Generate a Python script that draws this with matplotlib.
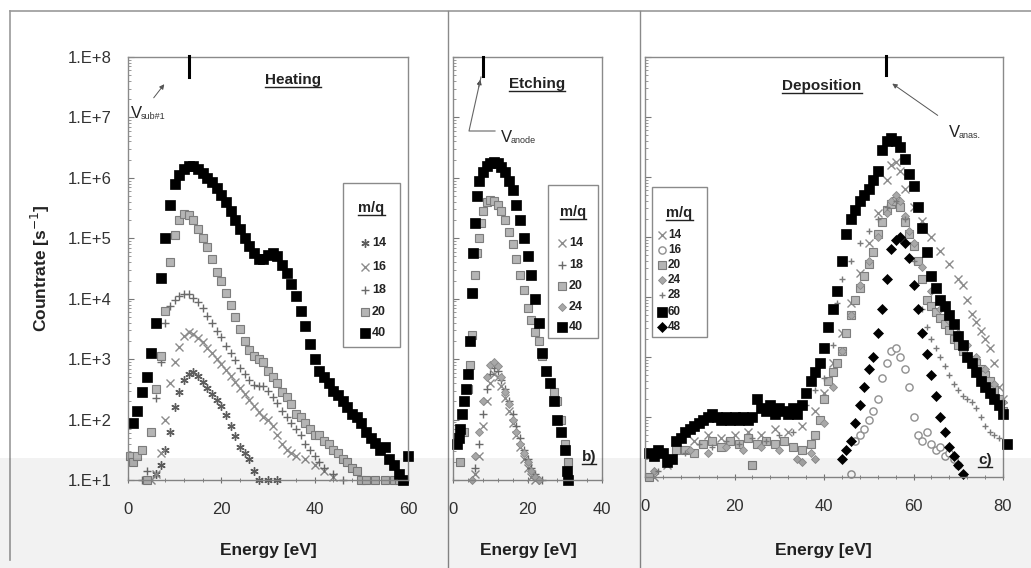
import numpy as np
import matplotlib
matplotlib.use("Agg")
import matplotlib.pyplot as plt
from matplotlib.lines import Line2D
from matplotlib.patches import Rectangle, FancyArrowPatch
from matplotlib.ticker import FixedLocator, FuncFormatter, LogLocator, MultipleLocator, NullFormatter

plt.rcParams['font.family'] = ['Liberation Sans', 'DejaVu Sans']

# ---------------- data (log10 of countrate in s^-1) ----------------
# (a) Heating
heat14_E = [6, 7, 8, 9, 10, 11, 12, 13, 14, 15, 16, 17, 18, 19, 20, 21, 22, 23, 24, 25, 26, 27, 28, 30, 32]
heat14_log = [1.1, 1.25, 1.5, 1.8, 2.2, 2.45, 2.65, 2.75, 2.78, 2.72, 2.62, 2.52, 2.42, 2.32, 2.22, 2.08, 1.9,
              1.72, 1.55, 1.45, 1.35, 1.15, 1.0, 1.0, 1.0]
heat16_E = [5, 6, 7, 8, 9, 10, 11, 12, 13, 14, 15, 16, 17, 18, 19, 20, 21, 22, 23, 24, 25, 26, 27, 28, 29, 30,
            31, 32, 33, 34, 35, 36, 38, 40, 42, 44]
heat16_log = [1.0, 1.1, 1.45, 2.0, 2.6, 2.95, 3.2, 3.38, 3.45, 3.42, 3.35, 3.28, 3.18, 3.1, 3.0, 2.92, 2.82, 2.72,
              2.62, 2.52, 2.42, 2.32, 2.22, 2.12, 2.05, 2.0, 1.9, 1.75, 1.6, 1.5, 1.45, 1.4, 1.35, 1.25, 1.15, 1.05]
heat18_E = [3, 4, 5, 6, 7, 8, 9, 10, 11, 12, 13, 14, 15, 16, 17, 18, 19, 20, 21, 22, 23, 24, 25, 26, 27, 28, 29,
            30, 31, 32, 33, 34, 35, 36, 37, 38, 39, 40, 41, 42, 44, 46]
heat18_log = [1.0, 1.15, 1.8, 2.35, 2.95, 3.6, 3.88, 3.98, 4.05, 4.08, 4.07, 4.02, 3.95, 3.85, 3.72, 3.6, 3.47,
              3.37, 3.22, 3.1, 2.98, 2.85, 2.75, 2.65, 2.58, 2.55, 2.55, 2.48, 2.38, 2.28, 2.15, 2.05, 1.95, 1.85,
              1.75, 1.6, 1.5, 1.4, 1.3, 1.2, 1.1, 1.0]
heat20_E = [0.5, 1, 2, 3, 4, 5, 6, 7, 8, 9, 10, 11, 12, 13, 14, 15, 16, 17, 18, 19, 20, 21, 22, 23, 24, 25, 26,
            27, 28, 29, 30, 31, 32, 33, 34, 35, 36, 37, 38, 39, 40, 41, 42, 43, 44, 45, 46, 47, 48, 49, 50, 51,
            53, 55, 57, 58]
heat20_log = [1.4, 1.3, 1.4, 1.5, 1.0, 1.8, 2.5, 3.05, 3.8, 4.6, 5.05, 5.3, 5.4, 5.38, 5.3, 5.15, 5.0, 4.85, 4.65,
              4.45, 4.3, 4.1, 3.9, 3.7, 3.5, 3.3, 3.15, 3.05, 3.0, 2.95, 2.8, 2.7, 2.6, 2.45, 2.38, 2.25, 2.1,
              2.05, 1.95, 1.85, 1.75, 1.75, 1.65, 1.6, 1.5, 1.45, 1.35, 1.3, 1.2, 1.15, 1.0, 1.0, 1.0, 1.0, 1.0, 1.0]
heat40_E = [1, 2, 3, 4, 5, 6, 7, 8, 9, 10, 11, 12, 13, 14, 15, 16, 17, 18, 19, 20, 21, 22, 23, 24, 25, 26, 27,
            28, 29, 30, 31, 32, 33, 34, 35, 36, 37, 38, 39, 40, 41, 42, 43, 44, 45, 46, 47, 48, 49, 50, 51, 52,
            53, 54, 55, 56, 57, 58, 59, 60]
heat40_log = [1.95, 2.15, 2.45, 2.7, 3.1, 3.6, 4.35, 5.0, 5.55, 5.9, 6.05, 6.15, 6.2, 6.19, 6.15, 6.08, 6.0, 5.93,
              5.83, 5.72, 5.6, 5.45, 5.3, 5.15, 5.0, 4.87, 4.75, 4.65, 4.66, 4.72, 4.76, 4.7, 4.55, 4.42, 4.25,
              4.05, 3.8, 3.55, 3.25, 3.0, 2.8, 2.7, 2.6, 2.48, 2.4, 2.3, 2.2, 2.1, 2.05, 1.95, 1.8, 1.7, 1.62,
              1.5, 1.55, 1.35, 1.25, 1.1, 1.0, 1.4]

# (b) Etching
etch14_E = [6, 7, 8, 9, 10, 11, 12, 13, 14, 15, 16, 17, 18, 19, 20, 21, 22]
etch14_log = [1.1, 1.4, 1.9, 2.3, 2.6, 2.75, 2.7, 2.55, 2.35, 2.15, 1.95, 1.75, 1.55, 1.35, 1.2, 1.05, 1.0]
etch18_E = [6, 7, 8, 9, 10, 11, 12, 13, 14, 15, 16, 17, 18, 19, 20, 21, 22, 23, 24]
etch18_log = [1.2, 1.6, 2.1, 2.5, 2.75, 2.85, 2.8, 2.65, 2.5, 2.3, 2.1, 1.9, 1.7, 1.5, 1.35, 1.2, 1.1, 1.0, 1.0]
etch20_E = [2, 3, 4, 4.5, 5, 5.5, 6, 6.5, 7, 7.5, 8, 9, 10, 11, 12, 13, 14, 15, 16, 17, 18, 19, 20, 21, 22, 23,
            24, 25, 26, 27, 28, 29, 30, 31]
etch20_log = [1.3, 1.8, 2.5, 2.9, 3.4, 4.1, 4.4, 4.75, 5.0, 5.25, 5.45, 5.6, 5.64, 5.62, 5.55, 5.45, 5.3, 5.1,
              4.9, 4.65, 4.4, 4.15, 3.85, 3.65, 3.45, 3.3, 3.05, 2.8, 2.6, 2.45, 2.3, 2.0, 1.6, 1.3]
etch24_E = [5, 6, 7, 8, 9, 10, 11, 12, 13, 14, 15, 16, 17, 18, 19, 20, 21, 22, 23]
etch24_log = [1.0, 1.4, 1.8, 2.3, 2.7, 2.9, 2.95, 2.88, 2.7, 2.45, 2.25, 2.0, 1.8, 1.6, 1.45, 1.3, 1.15, 1.05, 1.0]
etch40_E = [1, 1.5, 2, 2.5, 3, 3.5, 4, 4.5, 5, 5.5, 6, 6.5, 7, 8, 9, 10, 11, 12, 13, 14, 15, 16, 17, 18, 19, 20,
            21, 22, 23, 24, 25, 26, 27, 28, 29, 30, 30.5, 31]
etch40_log = [1.6, 1.7, 1.85, 2.1, 2.3, 2.5, 2.75, 3.3, 4.1, 4.75, 5.25, 5.7, 5.95, 6.1, 6.2, 6.25, 6.26, 6.24,
              6.18, 6.09, 5.95, 5.8, 5.55, 5.3, 5.0, 4.7, 4.4, 4.0, 3.6, 3.1, 2.8, 2.6, 2.3, 2.0, 1.8, 1.5, 1.15, 1.0]

# (c) Deposition
dep14_E = [2, 5, 8, 11, 14, 17, 20, 23, 26, 29, 32, 35, 38, 40, 42, 44, 46, 48, 50, 52, 54, 55, 56, 57, 58, 60,
           62, 64, 66, 68, 70, 71, 72, 73, 74, 75, 76, 77, 78, 79, 80]
dep14_log = [1.0, 1.2, 1.45, 1.6, 1.7, 1.65, 1.7, 1.75, 1.7, 1.8, 1.75, 1.85, 2.1, 2.4, 2.9, 3.4, 3.9, 4.4, 4.9,
             5.4, 5.95, 6.2, 6.25, 6.1, 5.8, 5.5, 5.27, 5.0, 4.77, 4.55, 4.3, 4.2, 3.95, 3.72, 3.58, 3.43, 3.3,
             3.15, 2.9, 2.5, 2.3]
dep16_E = [46, 47, 48, 49, 50, 51, 52, 53, 54, 55, 56, 57, 58, 59, 60, 61, 62, 63, 64, 65, 66, 67, 68, 69, 70]
dep16_log = [1.05, 1.6, 1.7, 1.8, 1.95, 2.1, 2.3, 2.65, 2.9, 3.1, 3.15, 3.0, 2.8, 2.5, 2.0, 1.7, 1.6, 1.75, 1.55,
             1.45, 1.5, 1.35, 1.4, 1.3, 1.2]
dep20_E = [1, 3, 5, 7, 9, 11, 13, 15, 17, 19, 21, 23, 24, 25, 27, 29, 31, 33, 35, 37, 38, 39, 40, 41, 42, 43, 44,
           45, 46, 47, 48, 49, 50, 51, 52, 53, 54, 55, 56, 57, 58, 59, 60, 61, 62, 63, 64, 65, 66, 67, 68, 69,
           70, 71, 72, 73, 74, 75, 76, 77, 78, 79, 80]
dep20_log = [1.0, 1.4, 1.3, 1.45, 1.45, 1.4, 1.55, 1.6, 1.5, 1.6, 1.55, 1.65, 1.2, 1.55, 1.6, 1.55, 1.6, 1.5, 1.45,
             1.55, 1.7, 1.95, 2.3, 2.6, 2.75, 2.9, 3.1, 3.4, 3.7, 3.95, 4.15, 4.35, 4.55, 4.75, 5.05, 5.25, 5.45,
             5.55, 5.6, 5.5, 5.25, 5.05, 4.85, 4.6, 4.3, 3.95, 3.85, 3.75, 3.65, 3.55, 3.45, 3.3, 3.2, 3.1, 3.0,
             2.95, 2.9, 2.8, 2.7, 2.6, 2.45, 2.3, 2.1]
dep24_E = [2, 6, 10, 14, 18, 22, 26, 30, 34, 35, 37, 38, 40, 42, 44, 46, 48, 50, 52, 54, 55, 56, 57, 58, 59, 60,
           62, 64, 66, 68, 70, 72, 74, 76, 78, 80]
dep24_log = [1.1, 1.3, 1.45, 1.4, 1.5, 1.45, 1.5, 1.45, 1.3, 1.25, 1.4, 1.3, 1.9, 2.5, 3.1, 3.7, 4.2, 4.6, 5.0,
             5.4, 5.6, 5.7, 5.6, 5.35, 5.1, 4.9, 4.5, 4.1, 3.8, 3.6, 3.4, 3.2, 3.0, 2.8, 2.55, 2.25]
dep28_E = [3, 6, 9, 12, 15, 18, 21, 24, 27, 30, 33, 36, 38, 40, 42, 43, 44, 46, 48, 50, 52, 54, 56, 58, 60, 62,
           63, 64, 65, 66, 67, 68, 69, 70, 71, 72, 73, 74, 75, 76, 77, 78, 79]
dep28_log = [1.1, 1.3, 1.4, 1.55, 1.5, 1.6, 1.55, 1.65, 1.6, 1.7, 1.75, 2.2, 2.45, 2.65, 3.2, 3.9, 4.3, 4.6, 4.9,
             5.1, 5.3, 5.5, 5.6, 5.3, 4.6, 3.8, 3.5, 3.3, 3.15, 3.0, 2.85, 2.7, 2.55, 2.45, 2.35, 2.3, 2.25, 2.15,
             2.0, 1.85, 1.75, 1.7, 1.65]
dep60_E = [1, 2, 3, 4, 5, 6, 7, 8, 9, 10, 11, 12, 13, 14, 15, 16, 17, 18, 19, 20, 21, 22, 23, 24, 25, 26, 27, 28,
           29, 30, 31, 32, 33, 34, 35, 36, 37, 38, 39, 40, 41, 42, 43, 44, 45, 46, 47, 48, 49, 50, 51, 52, 53,
           54, 55, 56, 57, 58, 59, 60, 61, 62, 63, 64, 65, 66, 67, 68, 69, 70, 71, 72, 73, 74, 75, 76, 77, 78,
           79, 80, 81]
dep60_log = [1.4, 1.35, 1.45, 1.4, 1.25, 1.3, 1.6, 1.65, 1.75, 1.8, 1.85, 1.9, 1.95, 2.0, 2.05, 2.0, 1.95, 2.0,
             1.95, 2.0, 1.95, 2.0, 1.95, 2.0, 2.3, 2.15, 2.1, 2.2, 2.05, 2.15, 2.1, 2.05, 2.15, 2.05, 2.2, 2.4,
             2.6, 2.75, 2.9, 3.15, 3.5, 3.8, 4.1, 4.6, 5.05, 5.3, 5.45, 5.6, 5.7, 5.8, 5.95, 6.1, 6.45, 6.6, 6.65,
             6.6, 6.5, 6.3, 6.05, 5.85, 5.5, 5.15, 4.75, 4.35, 4.15, 3.95, 3.85, 3.7, 3.55, 3.35, 3.2, 3.0, 2.9,
             2.75, 2.6, 2.5, 2.4, 2.3, 2.2, 2.05, 1.55]
dep48_E = [44, 45, 46, 47, 48, 49, 50, 51, 52, 53, 54, 55, 56, 57, 58, 59, 60, 61, 62, 63, 64, 65, 66, 67, 68,
           69, 70, 71]
dep48_log = [1.3, 1.45, 1.6, 1.9, 2.2, 2.5, 2.8, 3.0, 3.4, 3.8, 4.3, 4.8, 4.95, 5.0, 4.9, 4.65, 4.2, 3.8, 3.4,
             3.05, 2.7, 2.35, 2.0, 1.75, 1.5, 1.35, 1.2, 1.05]

ytick_exponents = [1, 2, 3, 4, 5, 6, 7, 8]

# ---------------- styles ----------------
STY = {
    'ast':  dict(marker=(6, 2, 0), ms=6, mec='#5e5e5e', mew=1.0, mfc='none', ls='none'),
    'x':    dict(marker='x', ms=5.5, mec='#8c8c8c', mew=1.0, ls='none'),
    'plus': dict(marker='+', ms=6, mec='#6a6a6a', mew=1.0, ls='none'),
    'gsq':  dict(marker='s', ms=6, mfc='#b5b5b5', mec='#7d7d7d', mew=0.8, ls='none'),
    'bsq':  dict(marker='s', ms=6.6, mfc='black', mec='black', mew=0.5, ls='none'),
    'gdia': dict(marker='D', ms=4.5, mfc='#a8a8a8', mec='#8a8a8a', mew=0.6, ls='none'),
    'ocir': dict(marker='o', ms=5.2, mfc='white', mec='#8f8f8f', mew=1.0, ls='none'),
    'plus2': dict(marker='+', ms=4.5, mec='#7a7a7a', mew=1.0, ls='none'),
    'bdia': dict(marker='D', ms=4.8, mfc='black', mec='black', mew=0.5, ls='none'),
}

W, H = 1031, 568
fig = plt.figure(figsize=(W / 100, H / 100), dpi=100)


def fx(x):
    return x / W


def fy(y):
    return 1 - y / H


def make_axes(x0, x1, y0, y1):
    return fig.add_axes([fx(x0), fy(y1), (x1 - x0) / W, (y1 - y0) / H])


axA = make_axes(128, 408, 57, 480)
axB = make_axes(453, 602, 57, 480)
axC = make_axes(645, 1003, 57, 477)

series = [
    (axA, [(heat14_E, heat14_log, 'ast'), (heat16_E, heat16_log, 'x'), (heat18_E, heat18_log, 'plus'),
           (heat20_E, heat20_log, 'gsq'), (heat40_E, heat40_log, 'bsq')], 60, [0, 20, 40, 60]),
    (axB, [(etch14_E, etch14_log, 'x'), (etch18_E, etch18_log, 'plus'), (etch20_E, etch20_log, 'gsq'),
           (etch24_E, etch24_log, 'gdia'), (etch40_E, etch40_log, 'bsq')], 40, [0, 20, 40]),
    (axC, [(dep14_E, dep14_log, 'x'), (dep16_E, dep16_log, 'ocir'), (dep20_E, dep20_log, 'gsq'),
           (dep24_E, dep24_log, 'gdia'), (dep28_E, dep28_log, 'plus2'), (dep60_E, dep60_log, 'bsq'),
           (dep48_E, dep48_log, 'bdia')], 80, [0, 20, 40, 60, 80]),
]

for ax, ser, xmax, xt in series:
    for E, lg, key in ser:
        ax.plot(E, 10.0 ** np.asarray(lg), clip_on=False, **STY[key])
    ax.set_yscale('log')
    ax.set_ylim(10, 1e8)
    ax.set_xlim(0, xmax)
    ax.xaxis.set_major_locator(FixedLocator(xt))
    ax.xaxis.set_minor_locator(MultipleLocator(4))
    ax.yaxis.set_major_locator(FixedLocator([10.0 ** k for k in ytick_exponents]))
    ax.yaxis.set_minor_locator(LogLocator(base=10, subs=np.arange(2, 10)))
    ax.yaxis.set_minor_formatter(NullFormatter())
    for s in ax.spines.values():
        s.set_color('#8a8a8a')
        s.set_linewidth(1.0)
    ax.tick_params(axis='x', which='major', direction='inout', length=5, width=0.8, color='#777',
                   labelsize=12, labelcolor='#333', pad=13)
    ax.tick_params(axis='x', which='minor', direction='inout', length=3, width=0.7, color='#888')
    ax.tick_params(axis='y', which='major', direction='in', length=4, width=0.8, color='#777',
                   labelsize=12, labelcolor='#333', pad=12)
    ax.tick_params(axis='y', which='minor', direction='in', length=2.5, width=0.6, color='#888')
    ax.set_facecolor('white')

axA.yaxis.set_major_formatter(FuncFormatter(lambda v, p: "1.E+%d" % int(round(np.log10(v)))))
axB.yaxis.set_major_formatter(NullFormatter())
axC.yaxis.set_major_formatter(NullFormatter())

# ---------------- figure-level text & decorations ----------------
underline_list = []


def ftext(x, y, s, **kw):
    return fig.text(fx(x), fy(y), s, **kw)


def fline(xs, ys, **kw):
    fig.add_artist(Line2D([fx(v) for v in xs], [fy(v) for v in ys], transform=fig.transFigure, **kw))


# frame lines of the scanned page
fline([10, 1031], [11, 11], color='#9a9a9a', lw=1.2)
fline([10, 10], [11, 560], color='#9a9a9a', lw=1.2)
fline([448, 448], [11, 568], color='#8a8a8a', lw=1.0)
fline([640, 640], [11, 568], color='#8a8a8a', lw=1.0)

ftext(40, 268, 'Countrate [s$^{-1}$]', rotation=90, ha='center', va='center', fontsize=12.5,
      fontweight='bold', color='#222')
for cx in (268, 528, 823):
    ftext(cx, 551, 'Energy [eV]', ha='center', va='center', fontsize=12.5, fontweight='bold', color='#222')

for cx, by, s in ((293, 84, 'Heating'), (537, 88, 'Etching'), (822, 90, 'Deposition')):
    t = ftext(cx, by, s, ha='center', va='baseline', fontsize=11, fontweight='bold', color='#222')
    underline_list.append((t, by + 3))

for cx, by, s in ((589, 461, 'b)'), (985, 464, 'c)')):
    t = ftext(cx, by, s, ha='center', va='baseline', fontsize=11, fontweight='bold', color='#222')
    underline_list.append((t, by + 3))

# potential markers
fline([189, 189], [56, 77], color='black', lw=2.2)
fline([483, 483], [57, 76], color='black', lw=2.2)
fline([886, 886], [56, 75], color='black', lw=2.2)

fig.add_artist(FancyArrowPatch((fx(152), fy(100)), (fx(166), fy(82)),
               transform=fig.transFigure, arrowstyle='-|>', mutation_scale=7, lw=0.7, color='#555'))
fline([481, 469, 495], [77, 131, 131], color='#666', lw=0.8)
fig.add_artist(FancyArrowPatch((fx(478), fy(90)), (fx(481), fy(77)),
               transform=fig.transFigure, arrowstyle='-|>', mutation_scale=7, lw=0.7, color='#444'))
fig.add_artist(FancyArrowPatch((fx(940), fy(117)), (fx(890), fy(82)),
               transform=fig.transFigure, arrowstyle='-|>', mutation_scale=7, lw=0.7, color='#555'))

for vx, vy, sub in ((131, 118, 'sub#1'), (501, 142, 'anode'), (949, 137, 'anas.')):
    ftext(vx, vy, 'V', ha='left', va='baseline', fontsize=12, color='#222')
    ftext(vx + 10, vy + 1, sub, ha='left', va='baseline', fontsize=6.5, color='#333')


# legends
def draw_legend(box, title_y, entries, ys, marker_x, text_x, fs):
    x0, y0, x1, y1 = box
    fig.add_artist(Rectangle((fx(x0), fy(y1)), (x1 - x0) / W, (y1 - y0) / H, transform=fig.transFigure,
                             fill=True, facecolor='white', edgecolor='#8a8a8a', lw=1.0))
    t = ftext((x0 + x1) / 2, title_y, 'm/q', ha='center', va='baseline', fontsize=10.5, fontweight='bold',
              color='#222')
    underline_list.append((t, title_y + 3))
    for (lab, key), y in zip(entries, ys):
        fig.add_artist(Line2D([fx(marker_x)], [fy(y)], transform=fig.transFigure, **STY[key]))
        ftext(text_x, y, lab, ha='left', va='center', fontsize=fs, fontweight='bold', color='#222')


draw_legend((343, 183, 400, 347), 212,
            [('14', 'ast'), ('16', 'x'), ('18', 'plus'), ('20', 'gsq'), ('40', 'bsq')],
            [243, 267, 290, 312, 333], 365, 372, 9)
draw_legend((548, 185, 598, 338), 216,
            [('14', 'x'), ('18', 'plus'), ('20', 'gsq'), ('24', 'gdia'), ('40', 'bsq')],
            [243, 265, 286, 307, 327], 562, 569, 9)
draw_legend((652, 187, 707, 337), 217,
            [('14', 'x'), ('16', 'ocir'), ('20', 'gsq'), ('24', 'gdia'), ('28', 'plus2'), ('60', 'bsq'),
             ('48', 'bdia')],
            [235, 250, 265, 280, 295, 312, 327], 662, 668, 8.5)

# underline texts (needs a draw to measure)
fig.canvas.draw()
for t, uy in underline_list:
    bb = t.get_window_extent()
    fline([bb.x0, bb.x1], [uy, uy], color='#222', lw=1.0)

# scanner shading at the bottom of the page
fig.add_artist(Rectangle((0, 0), 1, fy(458), transform=fig.transFigure, facecolor='black', alpha=0.05,
                         edgecolor='none', zorder=50))

fig.savefig('out.png', dpi=100, facecolor='white')
